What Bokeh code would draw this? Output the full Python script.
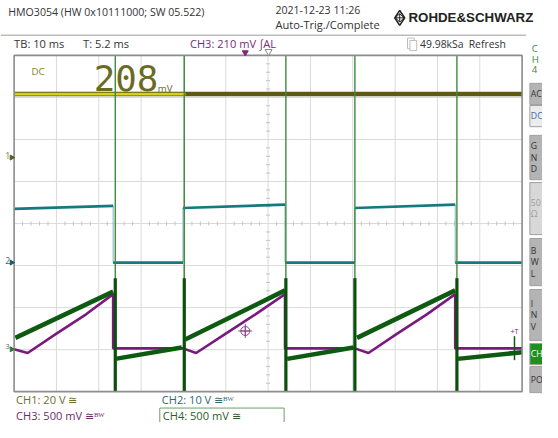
import math
from bokeh.plotting import figure
from bokeh.models import Range1d
from bokeh.core.properties import value
from bokeh.embed import file_html
from bokeh.resources import INLINE

# ---------------- data (time in ms, amplitude in divisions) ----------------
TIME_PER_DIV_MS = 10
N_XDIV = 12
N_YDIV = 8

# CH1 (yellow) flat DC level
ch1_t = [0, 120]
ch1_v = [3.08, 3.08]
ch1_bright_until = 40.5          # ms, bright part of the trace

# CH2 (teal) square wave: consecutive pairs are level segments
ch2_t = [0, 23.4, 23.4, 39.9, 39.9, 64.0, 64.0, 80.5, 80.5, 104.2, 104.2, 120]
ch2_v = [0.35, 0.42, -0.93, -0.93, 0.37, 0.45, -0.93, -0.93, 0.37, 0.45, -0.93, -0.93]

# CH3 (purple) ramp
ch3_t = [0, 3.2, 10.0, 17.0, 23.4, 23.4, 39.9, 43.0, 50.0, 57.0, 64.0, 64.0,
         80.5, 83.7, 90.5, 97.5, 104.2, 104.2, 120]
ch3_v = [-2.99, -3.08, -2.62, -2.16, -1.68, -2.97, -2.97, -3.08, -2.62, -2.16, -1.68, -2.97,
         -2.97, -3.08, -2.62, -2.16, -1.68, -2.97, -2.97]

# CH4 (green) ramps: consecutive pairs are segments
ch4_t = [0.3, 23.4, 23.9, 39.6, 40.4, 64.0, 64.5, 80.2, 81.0, 104.2, 104.7, 120]
ch4_v = [-2.72, -1.62, -3.22, -2.95, -2.76, -1.59, -3.22, -2.95, -2.72, -1.59, -3.22, -3.06]
# CH4 switching spikes (clip full screen)
ch4_spike_t = [23.9, 40.2, 64.2, 80.5, 104.6]
ch4_small_spike_t = [118.2]
ch4_small_spike_v = [-2.68, -3.25]

# ---------------- layout helpers (reference pixel -> data) ----------------
REF_W, REF_H = 558, 438
GX0, GX1, GY0, GY1 = 14, 537, 57, 406
PX_MS = (GX1 - GX0) / (N_XDIV * TIME_PER_DIV_MS)
PX_DIV = (GY1 - GY0) / N_YDIV
YC = (GY0 + GY1) / 2


def X(px):
    return (px - GX0) / PX_MS


def Y(py):
    return (YC - py) / PX_DIV


W, H = 542, 422
S = 0.967


def fs(px):
    return f"{px * S:.1f}px"


p = figure(width=W, height=H,
           x_range=Range1d(X(0), X(REF_W)), y_range=Range1d(Y(REF_H), Y(0)),
           output_backend="svg", toolbar_location=None, min_border=0,
           x_axis_location=None, y_axis_location=None,
           background_fill_color="white", border_fill_color="white",
           outline_line_color=None)
p.xgrid.visible = False
p.ygrid.visible = False

FONT = "Open Sans"


def txt(px, py, s, color, size, align="left", style="normal", font=FONT):
    p.text(x=[X(px)], y=[Y(py)], text=[s], text_color=color,
           text_font_size=fs(size), text_align=align, text_baseline="middle",
           text_font=value(font), text_font_style=style)


XMAX = N_XDIV * TIME_PER_DIV_MS
YMAX = N_YDIV / 2

# ---------------- grid ----------------
vx = [k * TIME_PER_DIV_MS for k in range(1, N_XDIV)]
p.segment(x0=vx, y0=[-YMAX] * len(vx), x1=vx, y1=[YMAX] * len(vx),
          line_color="#dadada", line_width=1)
hy = [k for k in range(-3, 4)]
p.segment(x0=[0] * len(hy), y0=hy, x1=[XMAX] * len(hy), y1=hy,
          line_color="#dadada", line_width=1)
# center ticks
tx = [k * 2 for k in range(1, 60) if k % 5]
p.segment(x0=tx, y0=[-0.05] * len(tx), x1=tx, y1=[0.05] * len(tx),
          line_color="#c4c4c4", line_width=1)
ty = [k * 0.2 for k in range(-19, 20) if k % 5]
p.segment(x0=[XMAX / 2 - 0.5] * len(ty), y0=ty, x1=[XMAX / 2 + 0.5] * len(ty), y1=ty,
          line_color="#c4c4c4", line_width=1)

# ---------------- traces ----------------
# CH1
p.line(ch1_t, ch1_v, line_color="#5e5a10", line_width=4.5)
p.line([ch1_t[0], ch1_bright_until], [ch1_v[0], ch1_v[0]], line_color="#d6d21a", line_width=2.8)

# CH2
p.line(ch2_t, ch2_v, line_color="#7fb3b5", line_width=1)
p.segment(x0=ch2_t[0::2], y0=ch2_v[0::2], x1=ch2_t[1::2], y1=ch2_v[1::2],
          line_color="#167880", line_width=2.6)

# CH3
p.line(ch3_t, ch3_v, line_color="#7a1a7e", line_width=2.6)

# CH4 spikes
p.segment(x0=ch4_spike_t, y0=[-YMAX] * 5, x1=ch4_spike_t, y1=[YMAX] * 5,
          line_color="#3f8a3f", line_width=1.4)
p.segment(x0=ch4_spike_t, y0=[-YMAX] * 5, x1=ch4_spike_t, y1=[-1.3] * 5,
          line_color="#0b4f0b", line_width=3.2)
p.segment(x0=ch4_small_spike_t, y0=[ch4_small_spike_v[0]], x1=ch4_small_spike_t,
          y1=[ch4_small_spike_v[1]], line_color="#0d5a10", line_width=1.5)
# CH4 ramps
p.segment(x0=ch4_t[0::2], y0=ch4_v[0::2], x1=ch4_t[1::2], y1=ch4_v[1::2],
          line_color="#0d5a10", line_width=4.5)

# border of the screen
p.quad(left=[0], right=[XMAX], bottom=[-YMAX], top=[YMAX], fill_color=None,
       line_color="#8c8c8c", line_width=1.6)

# ---------------- header ----------------
p.segment(x0=[X(0)], y0=[Y(36)], x1=[X(541)], y1=[Y(36)], line_color="#9a9a9a", line_width=1)
txt(8, 12, "HMO3054 (HW 0x10111000; SW 05.522)", "#333333", 11)
txt(283, 10, "2021-12-23 11:26", "#333333", 11)
txt(283, 25, "Auto-Trig./Complete", "#333333", 11.5)
p.scatter(x=[X(411)], y=[Y(18)], marker="diamond", size=15, fill_color=None,
          line_color="#222222", line_width=1.6)
p.scatter(x=[X(411)], y=[Y(18)], marker="square_x", size=6, angle=math.pi / 4,
          fill_color=None, line_color="#222222", line_width=1)
txt(420, 18, "ROHDE&SCHWARZ", "#222222", 13.8, style="bold", font="Liberation Sans")

txt(14, 45, "TB: 10 ms", "#333333", 11.5)
txt(85, 45, "T: 5.2 ms", "#333333", 11.5)
txt(195, 45, "CH3: 210 mV \u222bAL", "#7b2a7b", 11.5)
p.quad(left=[X(419)], right=[X(426)], top=[Y(39)], bottom=[Y(50)], fill_color=None,
       line_color="#bdbdbd", line_width=1)
p.quad(left=[X(421.5)], right=[X(428.5)], top=[Y(41.5)], bottom=[Y(52)], fill_color="white",
       line_color="#bdbdbd", line_width=1)
txt(432, 45, "49.98kSa", "#333333", 10.8)
txt(482, 45, "Refresh", "#333333", 10.8)

# markers at the grid edge
p.scatter(x=[X(252)], y=[Y(54)], marker="inverted_triangle", size=6, fill_color="#7b2a7b",
          line_color="#7b2a7b")
p.scatter(x=[X(276)], y=[Y(53)], marker="inverted_triangle", size=7, fill_color="white",
          line_color="#888888")
txt(5, 161, "1", "#7a7a3a", 9)
p.scatter(x=[X(11.5)], y=[Y(163)], marker="triangle", angle=-math.pi / 2, size=5,
          fill_color="#5a5a1a", line_color="#5a5a1a")
txt(5, 270, "2", "#2e6a70", 9)
p.scatter(x=[X(11.5)], y=[Y(272)], marker="triangle", angle=-math.pi / 2, size=5,
          fill_color="#1a5a60", line_color="#1a5a60")
txt(5, 359, "3", "#666666", 8)
p.scatter(x=[X(11.5)], y=[Y(362)], marker="triangle", angle=-math.pi / 2, size=5,
          fill_color="#2a7a2a", line_color="#2a7a2a")
txt(525, 343, "+T", "#7b2a7b", 7.5)
p.scatter(x=[X(252)], y=[Y(343)], marker="circle_cross", size=9, fill_color=None,
          line_color="#8a4a8a", line_width=1)
p.scatter(x=[X(252)], y=[Y(343)], marker="cross", size=14, fill_color=None,
          line_color="#8a4a8a", line_width=1)

# measurement readout
txt(32, 74, "DC", "#7f7f2a", 10)
txt(96, 80, "208", "#6b6b1f", 37, font="DejaVu Sans Mono")
txt(162, 91, "mV", "#6b6b1f", 10)

# ---------------- right panel ----------------
for py, s in [(50, "C"), (61, "H"), (72, "4")]:
    txt(547, py, s, "#3a8a3a", 10)
buttons = [
    (86, 108, "#b4b4b4", ["AC"], "#333333"),
    (109, 131, "#ececec", ["DC"], "#3a6aa0"),
    (140, 186, "#b4b4b4", ["G", "N", "D"], "#333333"),
    (189, 243, "#d8d8d8", ["50", "\u03a9"], "#9a9a9a"),
    (247, 296, "#b4b4b4", ["B", "W", "L"], "#333333"),
    (300, 353, "#b4b4b4", ["I", "N", "V"], "#333333"),
    (356, 378, "#1f8f1f", ["CH"], "#ffffff"),
    (380, 407, "#b4b4b4", ["PO"], "#333333"),
]
for top, bot, fc, labels, tc in buttons:
    p.quad(left=[X(545)], right=[X(565)], top=[Y(top)], bottom=[Y(bot)], fill_color=fc,
           line_color="#a0a0a0", line_width=1)
    n = len(labels)
    mid = (top + bot) / 2
    for i, s in enumerate(labels):
        txt(546, mid + (i - (n - 1) / 2) * 12, s, tc, 9)

# ---------------- footer ----------------
txt(16, 414, "CH1: 20 V \u2245", "#6e6e2e", 11.5)
txt(166, 414, "CH2: 10 V \u2245\u1d2e\u1d42", "#2e6a70", 11.5)
txt(16, 431, "CH3: 500 mV \u2245\u1d2e\u1d42", "#6e2a6e", 11.5)
p.quad(left=[X(164)], right=[X(292)], top=[Y(423)], bottom=[Y(441)], fill_color=None,
       line_color="#6aa06a", line_width=1)
txt(167, 431, "CH4: 500 mV \u2245", "#2a5e2a", 11.5)

open("out.html", "w").write(file_html(p, INLINE))
